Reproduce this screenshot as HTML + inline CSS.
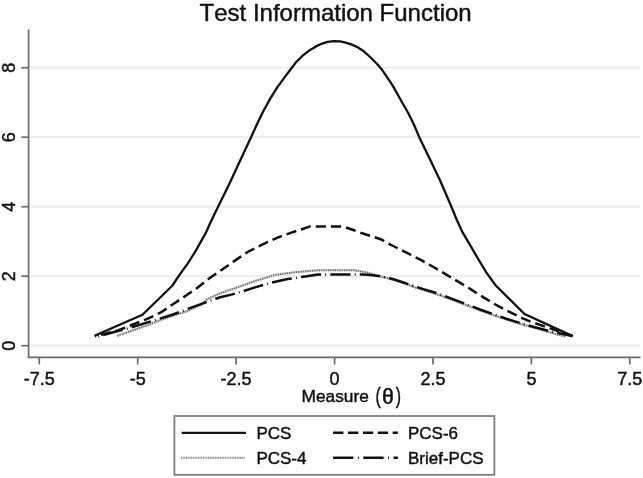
<!DOCTYPE html><html><head><meta charset="utf-8"><style>html,body{margin:0;padding:0;background:#fff;}svg{display:block;}text{font-family:"Liberation Sans", Arial, Helvetica, sans-serif;fill:#111;stroke:#111;stroke-width:0.45px;font-kerning:none;}</style></head><body>
<svg width="643" height="478" viewBox="0 0 643 478">
<rect width="643" height="478" fill="#fff"/>
<g>
<line x1="30" y1="345.7" x2="640" y2="345.7" stroke="#eeeeee" stroke-width="2.2"/>
<line x1="30" y1="276.2" x2="640" y2="276.2" stroke="#eeeeee" stroke-width="2.2"/>
<line x1="30" y1="206.7" x2="640" y2="206.7" stroke="#eeeeee" stroke-width="2.2"/>
<line x1="30" y1="137.2" x2="640" y2="137.2" stroke="#eeeeee" stroke-width="2.2"/>
<line x1="30" y1="67.7" x2="640" y2="67.7" stroke="#eeeeee" stroke-width="2.2"/>
<line x1="28.6" y1="29.4" x2="28.6" y2="358.1" stroke="#6b6b6b" stroke-width="1.7"/>
<line x1="27.8" y1="357.3" x2="640.5" y2="357.3" stroke="#6b6b6b" stroke-width="1.7"/>
<line x1="21.3" y1="345.7" x2="28.6" y2="345.7" stroke="#6b6b6b" stroke-width="1.7"/>
<text transform="translate(15.2,345.7) rotate(-90)" text-anchor="middle" font-size="18">0</text>
<line x1="21.3" y1="276.2" x2="28.6" y2="276.2" stroke="#6b6b6b" stroke-width="1.7"/>
<text transform="translate(15.2,276.2) rotate(-90)" text-anchor="middle" font-size="18">2</text>
<line x1="21.3" y1="206.7" x2="28.6" y2="206.7" stroke="#6b6b6b" stroke-width="1.7"/>
<text transform="translate(15.2,206.7) rotate(-90)" text-anchor="middle" font-size="18">4</text>
<line x1="21.3" y1="137.2" x2="28.6" y2="137.2" stroke="#6b6b6b" stroke-width="1.7"/>
<text transform="translate(15.2,137.2) rotate(-90)" text-anchor="middle" font-size="18">6</text>
<line x1="21.3" y1="67.7" x2="28.6" y2="67.7" stroke="#6b6b6b" stroke-width="1.7"/>
<text transform="translate(15.2,67.7) rotate(-90)" text-anchor="middle" font-size="18">8</text>
<line x1="39.3" y1="357.3" x2="39.3" y2="364.5" stroke="#6b6b6b" stroke-width="1.7"/>
<text x="39.3" y="385" text-anchor="middle" font-size="18">-7.5</text>
<line x1="137.7" y1="357.3" x2="137.7" y2="364.5" stroke="#6b6b6b" stroke-width="1.7"/>
<text x="137.7" y="385" text-anchor="middle" font-size="18">-5</text>
<line x1="236.1" y1="357.3" x2="236.1" y2="364.5" stroke="#6b6b6b" stroke-width="1.7"/>
<text x="236.1" y="385" text-anchor="middle" font-size="18">-2.5</text>
<line x1="334.6" y1="357.3" x2="334.6" y2="364.5" stroke="#6b6b6b" stroke-width="1.7"/>
<text x="334.6" y="385" text-anchor="middle" font-size="18">0</text>
<line x1="433.0" y1="357.3" x2="433.0" y2="364.5" stroke="#6b6b6b" stroke-width="1.7"/>
<text x="433.0" y="385" text-anchor="middle" font-size="18">2.5</text>
<line x1="531.4" y1="357.3" x2="531.4" y2="364.5" stroke="#6b6b6b" stroke-width="1.7"/>
<text x="531.4" y="385" text-anchor="middle" font-size="18">5</text>
<line x1="629.8" y1="357.3" x2="629.8" y2="364.5" stroke="#6b6b6b" stroke-width="1.7"/>
<text x="629.8" y="385" text-anchor="middle" font-size="18">7.5</text>
<text x="335.6" y="21" text-anchor="middle" font-size="24">Test Information Function</text>
<text x="301.6" y="401.8" font-size="17.3">Measure</text>
<text transform="translate(375.4,403.2) scale(0.72,1)" font-size="22">(</text>
<text transform="translate(382.0,404.1) scale(1.15,1.23)" font-size="18.5">θ</text>
<text transform="translate(395.8,403.2) scale(0.72,1)" font-size="22">)</text>
<polyline points="117.3,335.8 146.3,325.6 161.3,319.7 175.0,315.0 186.0,311.6 201.6,304.6 207.6,299.0 220.1,293.3 232.7,289.0 245.2,284.6 255.0,281.0 275.1,274.9 293.9,272.4 309.0,271.0 320.0,270.2 354.0,270.2 360.0,271.2 367.6,272.7 377.6,275.7 390.1,278.8 402.7,282.8 415.2,287.4 425.0,290.6 437.6,294.5 448.9,298.6 465.2,304.8 480.0,310.3 493.8,315.2 506.4,319.6 522.7,324.6 535.0,328.0 548.8,332.0 558.0,334.7 566.0,336.6" fill="none" stroke="#d2d2d2" stroke-width="2.3"/>
<polyline points="117.3,335.8 146.3,325.6 161.3,319.7 175.0,315.0 186.0,311.6 201.6,304.6 207.6,299.0 220.1,293.3 232.7,289.0 245.2,284.6 255.0,281.0 275.1,274.9 293.9,272.4 309.0,271.0 320.0,270.2 354.0,270.2 360.0,271.2 367.6,272.7 377.6,275.7 390.1,278.8 402.7,282.8 415.2,287.4 425.0,290.6 437.6,294.5 448.9,298.6 465.2,304.8 480.0,310.3 493.8,315.2 506.4,319.6 522.7,324.6 535.0,328.0 548.8,332.0 558.0,334.7 566.0,336.6" fill="none" stroke="#666" stroke-width="2.0" stroke-dasharray="1.1 1.2"/>
<polyline points="95.5,337.0 127.3,328.6 155.9,319.8 173.8,314.2 185.3,309.8 201.6,303.8 220.1,297.3 231.4,294.6 242.7,291.3 255.0,287.4 271.0,282.8 287.7,279.0 305.2,276.4 318.0,274.6 362.5,274.6 370.0,275.0 378.8,276.0 392.7,279.0 402.7,282.3 415.2,286.5 425.0,289.6 437.6,293.4 448.9,297.6 465.2,303.8 480.0,309.5 493.8,314.4 506.4,318.7 522.7,323.8 535.0,327.3 548.8,331.0 563.0,334.0 572.5,336.0" fill="none" stroke="#111" stroke-width="2.5" stroke-dasharray="20.2 4.2 0.9 4.2" stroke-dashoffset="21.63"/>
<polyline points="95.0,336.3 118.0,330.4 147.2,318.9 161.3,312.2 173.3,304.0 186.4,295.3 197.5,287.7 210.1,277.7 222.6,269.3 235.2,260.4 247.7,252.0 263.8,243.8 277.6,237.6 291.4,232.6 301.9,229.2 310.0,226.4 341.4,226.4 345.2,227.3 354.0,230.3 360.0,232.5 367.6,235.0 373.8,236.9 381.4,239.5 387.6,243.2 395.2,247.0 401.4,250.1 409.0,253.8 414.6,256.8 421.3,260.2 432.6,266.5 445.1,273.9 457.7,281.4 470.2,288.9 478.8,294.5 493.8,303.6 508.9,311.7 522.7,318.3 531.9,322.1 539.4,324.6 572.3,336.0" fill="none" stroke="#111" stroke-width="2.5" stroke-dasharray="10.2 5" stroke-dashoffset="9.13"/>
<polyline points="94.5,335.8 142.5,314.8 172.5,285.5 177.6,277.7 183.8,268.9 186.7,265.0 190.9,258.5 194.6,252.6 198.0,246.8 201.3,240.9 204.7,235.0 207.2,230.0 209.3,225.0 212.5,218.2 218.2,206.4 225.1,192.6 230.1,182.3 235.2,171.2 243.8,152.7 250.7,137.9 256.4,125.6 262.6,112.5 270.1,98.9 277.6,86.9 285.1,76.6 290.7,69.3 296.3,61.9 302.6,55.7 308.8,50.8 315.1,46.9 321.4,43.8 327.7,41.9 333.9,41.1 340.2,41.3 346.5,42.8 351.3,44.4 357.6,47.3 363.8,51.3 370.1,57.0 376.4,63.2 381.4,68.9 386.4,76.2 392.7,85.6 398.0,95.0 401.3,101.0 408.2,113.0 413.9,124.5 418.9,136.4 424.2,147.5 431.3,162.0 440.1,180.5 444.0,189.5 448.5,200.0 450.7,205.0 456.3,218.8 462.6,232.4 470.1,245.2 478.2,259.0 486.3,272.4 495.3,285.0 524.5,314.0 572.8,336.1" fill="none" stroke="#111" stroke-width="2.3" stroke-linejoin="round"/>
<rect x="174.4" y="416" width="320" height="58.8" fill="#fff" stroke="#777" stroke-width="1.7"/>
<line x1="181.7" y1="432.8" x2="245.9" y2="432.8" stroke="#111" stroke-width="2.3"/>
<line x1="181" y1="457.8" x2="245" y2="457.8" stroke="#dddddd" stroke-width="2.3"/>
<line x1="181" y1="457.8" x2="245" y2="457.8" stroke="#8c8c8c" stroke-width="2.0" stroke-dasharray="1.1 1.35"/>
<line x1="333.1" y1="432.8" x2="397.8" y2="432.8" stroke="#111" stroke-width="2.5" stroke-dasharray="10.3 4.6"/>
<line x1="333.1" y1="457.8" x2="397.8" y2="457.8" stroke="#111" stroke-width="2.5" stroke-dasharray="20.3 4.5 0.9 4.5"/>
<text x="256.4" y="439.4" font-size="17">PCS</text>
<text x="256.4" y="464.1" font-size="17">PCS-4</text>
<text x="408" y="439.4" font-size="17">PCS-6</text>
<text x="408" y="464.1" font-size="17">Brief-PCS</text>
</g>
</svg></body></html>
